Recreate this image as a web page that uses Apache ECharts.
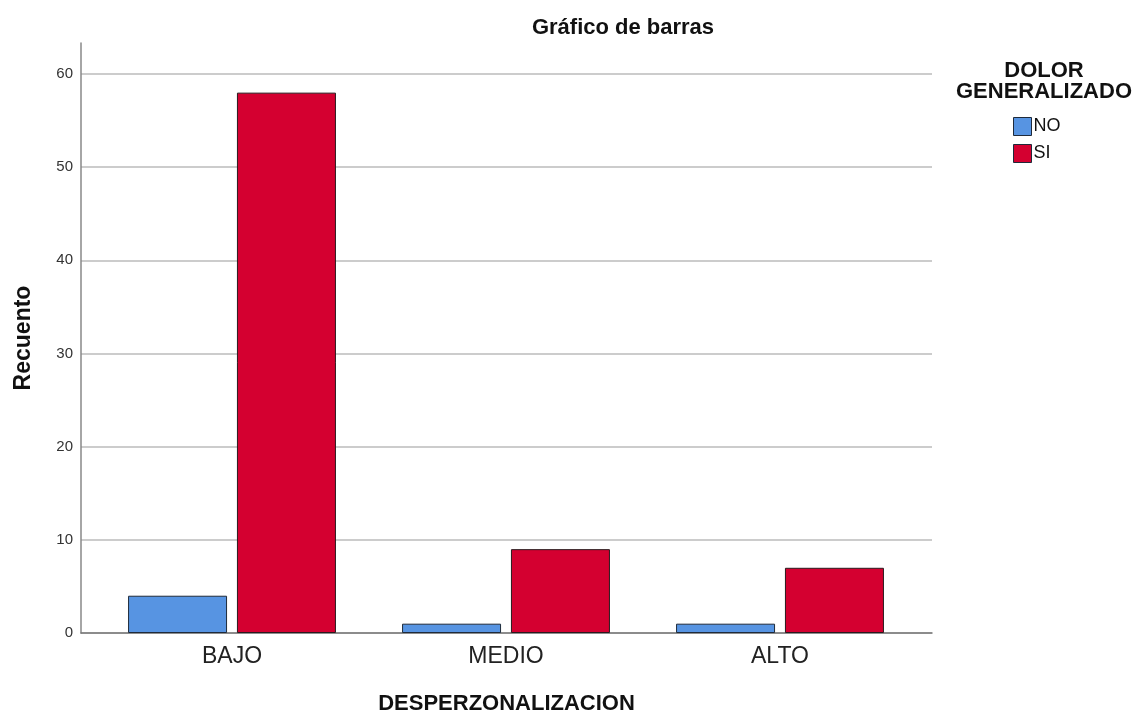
<!DOCTYPE html>
<html>
<head>
<meta charset="utf-8">
<script src="https://cdn.jsdelivr.net/npm/echarts@6/dist/echarts.min.js"></script>
<style>
  html, body { margin: 0; padding: 0; background: #fff; }
  #main { width: 1136px; height: 715px; }
</style>
</head>
<body>
<div id="main"></div>
<script>
// datos del gráfico
var categorias = ['BAJO', 'MEDIO', 'ALTO'];
var grupos = ['NO', 'SI'];
var valoresNO = [4, 1, 1];
var valoresSI = [58, 9, 7];
var ticksY = [0, 10, 20, 30, 40, 50, 60];

var myChart = echarts.init(document.getElementById('main'));
var fuente = 'Arial, "Liberation Sans", sans-serif';
var yTope = 63.3; // el eje vertical sube un poco por encima de 60

var option = {
  animation: false,
  title: [{
    text: 'Gráfico de barras',
    left: 618,
    top: 12,
    textAlign: 'center',
    textStyle: { fontFamily: fuente, fontSize: 22, fontWeight: 'bold', color: '#111' }
  }, {
    text: 'DOLOR\nGENERALIZADO',
    left: 1039,
    top: 55,
    textAlign: 'center',
    textStyle: { fontFamily: fuente, fontSize: 22, fontWeight: 'bold', color: '#111', lineHeight: 21, align: 'center' }
  }],
  legend: {
    data: grupos,
    orient: 'vertical',
    left: 1008,
    top: 112,
    itemWidth: 18,
    itemHeight: 18,
    itemGap: 8,
    icon: 'rect',
    itemStyle: { borderColor: '#1f2a3a', borderWidth: 1 },
    textStyle: { fontFamily: fuente, fontSize: 18, color: '#111', padding: [3, 0, 0, -3] }
  },
  grid: [
    // solo líneas de los ejes
    { left: 81, right: 204, top: 43, bottom: 82, outerBoundsMode: 'none' },
    // barras
    { left: 95, right: 219, top: 74, bottom: 82, outerBoundsMode: 'none' },
    // etiquetas y rejilla del eje Y
    { left: 81, right: 204, top: 74, bottom: 82, outerBoundsMode: 'none' }
  ],
  xAxis: [{
    gridIndex: 0,
    type: 'category',
    data: categorias,
    axisLine: { lineStyle: { color: '#777', width: 1.5 } },
    axisTick: { show: false },
    axisLabel: { show: false },
    name: 'DESPERZONALIZACION',
    nameLocation: 'middle',
    nameGap: 60,
    nameTextStyle: { fontFamily: fuente, fontSize: 22, fontWeight: 'bold', color: '#111' }
  }, {
    gridIndex: 1,
    type: 'category',
    data: categorias,
    axisLine: { show: false },
    axisTick: { show: false },
    axisLabel: { fontFamily: fuente, fontSize: 23, color: '#222', margin: 12 }
  }, {
    gridIndex: 2,
    type: 'category',
    data: categorias,
    show: false
  }],
  yAxis: [{
    gridIndex: 0,
    type: 'value',
    min: 0,
    max: yTope,
    axisLine: { show: true, lineStyle: { color: '#888', width: 1.5 } },
    axisTick: { show: false },
    axisLabel: { show: false },
    splitLine: { show: false },
    name: 'Recuento',
    nameLocation: 'middle',
    nameGap: 46,
    nameTextStyle: { fontFamily: fuente, fontSize: 23, fontWeight: 'bold', color: '#111' }
  }, {
    gridIndex: 1,
    type: 'value',
    min: 0,
    max: 60,
    show: false
  }, {
    gridIndex: 2,
    type: 'value',
    min: 0,
    max: 60,
    interval: 10,
    axisLine: { show: false },
    axisTick: { show: false },
    axisLabel: {
      fontFamily: fuente, fontSize: 15, color: '#333', margin: 8,
      formatter: function (v) { return ticksY.indexOf(v) >= 0 ? String(v) : ''; }
    },
    splitLine: { show: true, lineStyle: { color: '#bbb', width: 1.5 } }
  }],
  series: [{
    name: 'NO',
    type: 'bar',
    xAxisIndex: 1,
    yAxisIndex: 1,
    data: valoresNO,
    barWidth: 99,
    barGap: '10%',
    itemStyle: { color: '#5794e2', borderColor: '#1f2a3a', borderWidth: 1 }
  }, {
    name: 'SI',
    type: 'bar',
    xAxisIndex: 1,
    yAxisIndex: 1,
    data: valoresSI,
    barWidth: 99,
    barGap: '10%',
    itemStyle: { color: '#d40030', borderColor: '#2a1a1e', borderWidth: 1 }
  }]
};

myChart.setOption(option);
</script>
</body>
</html>
